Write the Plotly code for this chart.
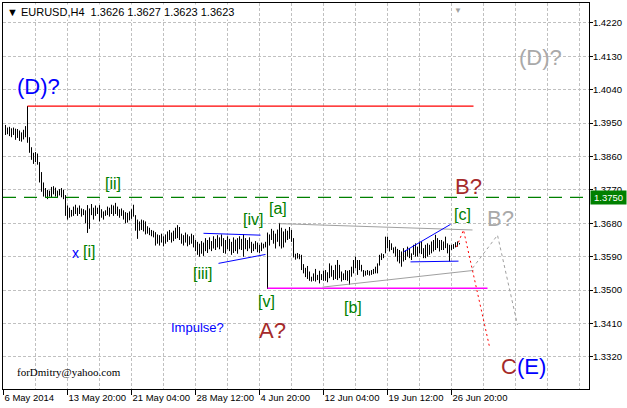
import plotly.graph_objects as go

# EURUSD H4 bars, 6 May - 26 Jun 2014 (bar index 1..228)
highs = [
    1.3945, 1.3938, 1.3940, 1.3936, 1.3938, 1.3935, 1.3934, 1.3930, 1.3925, 1.3932,
    1.3942, 1.3996, 1.3912, 1.3885, 1.3870, 1.3872, 1.3868, 1.3845, 1.3818, 1.3790,
    1.3775, 1.3770, 1.3768, 1.3778, 1.3780, 1.3776, 1.3768, 1.3772, 1.3775, 1.3770,
    1.3756, 1.3728, 1.3722, 1.3716, 1.3725, 1.3730, 1.3722, 1.3728, 1.3720, 1.3718,
    1.3715, 1.3729, 1.3720, 1.3732, 1.3722, 1.3728, 1.3722, 1.3729, 1.3718, 1.3712,
    1.3715, 1.3725, 1.3722, 1.3730, 1.3728, 1.3735, 1.3725, 1.3718, 1.3720, 1.3715,
    1.3710, 1.3708, 1.3712, 1.3718, 1.3730, 1.3702, 1.3690, 1.3685, 1.3690, 1.3688,
    1.3685, 1.3672, 1.3668, 1.3662, 1.3660, 1.3656, 1.3650, 1.3648, 1.3652, 1.3645,
    1.3650, 1.3658, 1.3662, 1.3655, 1.3660, 1.3668, 1.3675, 1.3670, 1.3652, 1.3648,
    1.3655, 1.3650, 1.3645, 1.3652, 1.3648, 1.3635, 1.3630, 1.3625, 1.3632, 1.3628,
    1.3640, 1.3635, 1.3642, 1.3632, 1.3645, 1.3638, 1.3648, 1.3642, 1.3650, 1.3640,
    1.3635, 1.3645, 1.3638, 1.3630, 1.3642, 1.3636, 1.3640, 1.3645, 1.3638, 1.3651,
    1.3640, 1.3635, 1.3642, 1.3630, 1.3625, 1.3632, 1.3628, 1.3622, 1.3628, 1.3625,
    1.3630, 1.3655, 1.3650, 1.3665, 1.3660, 1.3652, 1.3663, 1.3681, 1.3668, 1.3658,
    1.3665, 1.3660, 1.3670, 1.3662, 1.3640, 1.3598, 1.3600, 1.3597, 1.3595, 1.3570,
    1.3560, 1.3565, 1.3550, 1.3536, 1.3545, 1.3557, 1.3541, 1.3552, 1.3543, 1.3552,
    1.3554, 1.3548, 1.3572, 1.3566, 1.3554, 1.3568, 1.3581, 1.3568, 1.3550, 1.3545,
    1.3554, 1.3552, 1.3554, 1.3563, 1.3581, 1.3590, 1.3581, 1.3581, 1.3568, 1.3554,
    1.3552, 1.3554, 1.3552, 1.3554, 1.3557, 1.3563, 1.3572, 1.3595, 1.3599, 1.3597,
    1.3644, 1.3644, 1.3635, 1.3626, 1.3615, 1.3617, 1.3611, 1.3608, 1.3604, 1.3613,
    1.3608, 1.3617, 1.3613, 1.3599, 1.3622, 1.3626, 1.3617, 1.3631, 1.3631, 1.3613,
    1.3622, 1.3626, 1.3622, 1.3631, 1.3635, 1.3649, 1.3640, 1.3635, 1.3635, 1.3631,
    1.3644, 1.3626, 1.3622, 1.3622, 1.3624, 1.3629, 1.3631, 1.3627,
]
lows = [
    1.3918, 1.3920, 1.3915, 1.3912, 1.3918, 1.3905, 1.3910, 1.3902, 1.3900, 1.3906,
    1.3912, 1.3897, 1.3870, 1.3851, 1.3840, 1.3845, 1.3838, 1.3790, 1.3765, 1.3752,
    1.3748, 1.3745, 1.3752, 1.3750, 1.3758, 1.3752, 1.3748, 1.3755, 1.3750, 1.3745,
    1.3700, 1.3690, 1.3695, 1.3698, 1.3700, 1.3705, 1.3700, 1.3705, 1.3698, 1.3702,
    1.3680, 1.3654, 1.3665, 1.3702, 1.3690, 1.3700, 1.3705, 1.3685, 1.3695, 1.3690,
    1.3700, 1.3702, 1.3698, 1.3705, 1.3700, 1.3705, 1.3700, 1.3695, 1.3700, 1.3690,
    1.3680, 1.3682, 1.3688, 1.3692, 1.3698, 1.3660, 1.3638, 1.3660, 1.3662, 1.3658,
    1.3650, 1.3652, 1.3648, 1.3645, 1.3642, 1.3620, 1.3625, 1.3620, 1.3628, 1.3618,
    1.3625, 1.3630, 1.3635, 1.3628, 1.3632, 1.3638, 1.3640, 1.3635, 1.3625, 1.3620,
    1.3628, 1.3618, 1.3622, 1.3625, 1.3615, 1.3605, 1.3595, 1.3590, 1.3598, 1.3592,
    1.3605, 1.3600, 1.3610, 1.3605, 1.3612, 1.3608, 1.3615, 1.3610, 1.3618, 1.3600,
    1.3598, 1.3610, 1.3605, 1.3595, 1.3600, 1.3605, 1.3598, 1.3610, 1.3608, 1.3590,
    1.3610, 1.3605, 1.3612, 1.3600, 1.3605, 1.3610, 1.3602, 1.3600, 1.3605, 1.3612,
    1.3615, 1.3503, 1.3620, 1.3635, 1.3625, 1.3612, 1.3630, 1.3618, 1.3612, 1.3615,
    1.3628, 1.3635, 1.3638, 1.3630, 1.3588, 1.3582, 1.3585, 1.3583, 1.3554, 1.3545,
    1.3535, 1.3530, 1.3525, 1.3523, 1.3525, 1.3523, 1.3527, 1.3518, 1.3527, 1.3525,
    1.3525, 1.3521, 1.3532, 1.3536, 1.3527, 1.3530, 1.3527, 1.3532, 1.3523, 1.3527,
    1.3527, 1.3525, 1.3514, 1.3536, 1.3545, 1.3559, 1.3541, 1.3554, 1.3550, 1.3536,
    1.3539, 1.3541, 1.3539, 1.3541, 1.3543, 1.3545, 1.3545, 1.3566, 1.3581, 1.3586,
    1.3599, 1.3613, 1.3604, 1.3608, 1.3599, 1.3590, 1.3577, 1.3572, 1.3563, 1.3577,
    1.3581, 1.3590, 1.3586, 1.3581, 1.3595, 1.3590, 1.3590, 1.3599, 1.3597, 1.3586,
    1.3586, 1.3590, 1.3595, 1.3599, 1.3604, 1.3608, 1.3613, 1.3604, 1.3608, 1.3608,
    1.3613, 1.3599, 1.3577, 1.3608, 1.3611, 1.3615, 1.3617, 1.3623,
]
bar_idx = list(range(1, len(highs) + 1))

tick_pos = [0, 32, 64, 96, 128, 160, 192, 224]
tick_labels = ["6 May 2014", "13 May 20:00", "21 May 04:00", "28 May 12:00",
               "4 Jun 20:00", "12 Jun 04:00", "19 Jun 12:00", "26 Jun 20:00"]
price_ticks = [1.3320, 1.3410, 1.3500, 1.3590, 1.3680, 1.3770,
               1.3860, 1.3950, 1.4040, 1.4130, 1.4220]

# horizontal levels: (start bar, end bar, price)
red_level = (12, 235, 1.3996)
magenta_level = (132, 242, 1.3505)
green_level = 1.3750

# trend lines: x = bar index, y = price
gray_upper_x, gray_upper_y = [138, 234.5], [1.3679, 1.3662]
gray_lower_x, gray_lower_y = [159.5, 235], [1.3508, 1.3553]
blue_iv_top_x, blue_iv_top_y = [100, 128.5], [1.3653, 1.3648]
blue_iv_bot_x, blue_iv_bot_y = [107.5, 131], [1.3572, 1.3596]
blue_c_top_x, blue_c_top_y = [200, 223.5], [1.3603, 1.3677]
blue_c_bot_x, blue_c_bot_y = [203.5, 227.5], [1.3576, 1.3578]
red_path_x, red_path_y = [226.5, 230, 243], [1.3616, 1.3662, 1.3347]
gray_path_x, gray_path_y = [234.5, 247, 257], [1.3559, 1.3648, 1.3406]

BLUE = "#0000FF"
BROWN = "#A52A2A"
GREEN = "#008000"
GRAY = "#A9A9A9"
FONT = "Liberation Sans, Arial, sans-serif"

# bars as vertical high-low segments
seg_x, seg_y = [], []
for x, h, l in zip(bar_idx, highs, lows):
    seg_x += [x, x, None]
    seg_y += [l, h, None]

fig = go.Figure()
fig.add_trace(go.Scatter(x=seg_x, y=seg_y, mode="lines",
                         line=dict(color="black", width=1), hoverinfo="skip"))


def add_line(xs, ys, color, width=1, dash="solid"):
    fig.add_trace(go.Scatter(x=xs, y=ys, mode="lines",
                             line=dict(color=color, width=width, dash=dash),
                             hoverinfo="skip"))


add_line([red_level[0], red_level[1]], [red_level[2]] * 2, "#FF0000", 1.2)
add_line([magenta_level[0], magenta_level[1]], [magenta_level[2]] * 2, "#FF00FF", 1.5)
add_line(gray_upper_x, gray_upper_y, "#A0A0A0")
add_line(gray_lower_x, gray_lower_y, "#A0A0A0")
add_line(blue_iv_top_x, blue_iv_top_y, BLUE)
add_line(blue_iv_bot_x, blue_iv_bot_y, BLUE)
add_line(blue_c_top_x, blue_c_top_y, BLUE)
add_line(blue_c_bot_x, blue_c_bot_y, BLUE)
add_line(red_path_x, red_path_y, "#FF0000", 1, "2px,3px")
add_line(gray_path_x, gray_path_y, "#A0A0A0", 1, "3px,3px")

fig.add_shape(type="line", xref="paper", x0=0, x1=1, yref="y",
              y0=green_level, y1=green_level,
              line=dict(color=GREEN, width=1.3, dash="13px,8px"))

# wave labels: (text, bar index, price, colour, size)
labels = [
    ("(D)?", 17.5, 1.4050, BLUE, 22),
    ("(D)?", 268.5, 1.4126, GRAY, 22),
    ("B?", 232.5, 1.3778, BROWN, 22),
    ("B?", 248.5, 1.3692, GRAY, 22),
    ("A?", 134.5, 1.3392, BROWN, 22),
    ("C<span style='color:#0000FF'>(E)</span>", 260, 1.3295, BROWN, 22),
    ("Impulse?", 97, 1.3398, BLUE, 13),
    ("x", 35.75, 1.3600, BLUE, 14),
    ("[i]", 42.5, 1.3605, GREEN, 16),
    ("[ii]", 54.5, 1.3786, GREEN, 16),
    ("[iii]", 99.5, 1.3546, GREEN, 16),
    ("[iv]", 124.5, 1.3689, GREEN, 16),
    ("[v]", 131.5, 1.3468, GREEN, 16),
    ("[a]", 137, 1.3719, GREEN, 16),
    ("[b]", 174.5, 1.3454, GREEN, 16),
    ("[c]", 229.5, 1.3705, GREEN, 16),
]
for text, x, y, color, size in labels:
    fig.add_annotation(x=x, y=y, text=text, showarrow=False,
                       font=dict(family=FONT, size=size, color=color))

fig.add_annotation(x=32.5, y=1.3279, text="forDmitry@yahoo.com", showarrow=False,
                   font=dict(family="Liberation Serif, Times New Roman, serif",
                             size=11, color="black"))

# chart header and markers
fig.add_annotation(xref="paper", yref="paper", x=0, y=1, xanchor="left", yanchor="top",
                   xshift=2, yshift=-1, showarrow=False, bgcolor="white", borderpad=1,
                   text="▼ EURUSD,H4&nbsp;&nbsp;1.3626 1.3627 1.3623 1.3623",
                   font=dict(family=FONT, size=11, color="black"))
fig.add_annotation(x=227, xref="x", yref="paper", y=1, yanchor="top", yshift=-1,
                   showarrow=False, text="▼", font=dict(size=8, color="#A0A0A0"))
fig.add_annotation(xref="paper", x=1, xanchor="left", xshift=1, y=green_level,
                   text="1.3750", showarrow=False, bgcolor=GREEN, width=33, borderpad=1,
                   font=dict(family=FONT, size=9.5, color="white"))

grid = dict(showgrid=True, gridcolor="#C0C0C0", griddash="3px,2px", gridwidth=1)

fig.update_layout(
    width=627, height=408,
    margin=dict(l=3, r=38, t=3, b=19),
    paper_bgcolor="white", plot_bgcolor="white",
    showlegend=False,
    font=dict(family=FONT, size=9.5, color="black"),
    xaxis=dict(
        # quarter-bar offset keeps the 1px bars on whole pixels
        range=[-0.25, 292.75], tickvals=tick_pos, ticktext=tick_labels,
        tickangle=0, ticks="outside", ticklen=5, tickcolor="black",
        ticklabelposition="outside right",
        showline=True, linecolor="black", linewidth=1, mirror=True,
        zeroline=False,
        minor=dict(tick0=0, dtick=16, ticklen=0, **grid),
        **grid,
    ),
    yaxis=dict(
        range=[1.32334, 1.42737], side="right", tickvals=price_ticks,
        tickformat=".4f", ticks="outside", ticklen=3, tickcolor="black",
        ticklabelstandoff=-2,
        showline=True, linecolor="black", linewidth=1, mirror=True,
        zeroline=False,
        **grid,
    ),
)

# page has a default 8px body margin; drop it so the figure fills the window
fig.write_html("out.html", config={"displayModeBar": False},
               post_script="document.body.style.margin='0';")
